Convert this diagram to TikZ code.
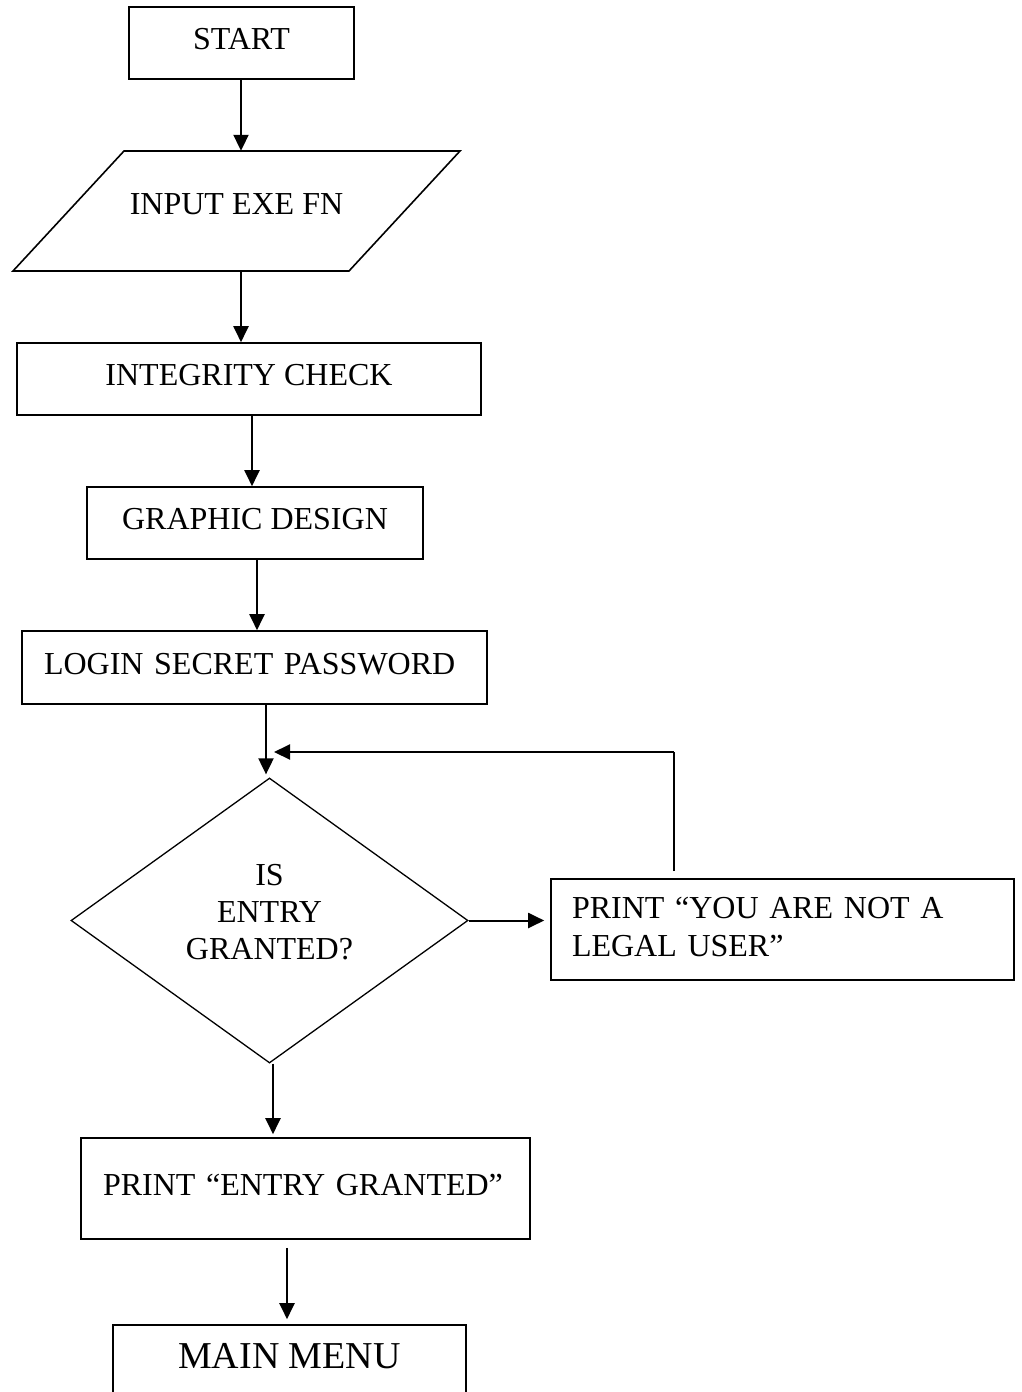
\documentclass[tikz,border=0pt]{standalone}
\usepackage{fontspec}
\setmainfont{Liberation Serif}
\usetikzlibrary{arrows.meta,shapes.geometric,calc}
\begin{document}
\begin{tikzpicture}[x=1pt,y=-1pt,
  box/.style={draw, line width=1.6pt, rectangle, inner sep=0pt,
    font=\fontsize{32}{37}\selectfont, text height=22pt, text depth=9pt},
  arr/.style={line width=2pt, -{Triangle[length=16pt,width=15pt]}},
  thin/.style={line width=1.4pt}]
\useasboundingbox (0,0) rectangle (1022,1392);
\node[box, minimum width=225pt, minimum height=72pt] (start) at (241.5,43) {START};
\node[inner sep=0pt, minimum width=336pt, minimum height=120pt,
  font=\fontsize{32}{37}\selectfont, text height=22pt, text depth=15pt] (input) at (236.5,211) {INPUT EXE FN};
\draw[line width=1.6pt] (124,151) -- (460,151) -- (349,271) -- (13,271) -- cycle;
\node[box, minimum width=464pt, minimum height=72pt] (integ) at (249,379) {INTEGRITY CHECK};
\node[box, minimum width=336pt, minimum height=72pt] (graphic) at (255,523) {GRAPHIC DESIGN};
\node[box, minimum width=465pt, minimum height=73pt, text width=421pt, inner xsep=22pt, align=left] (login) at (254.5,667.5) {LOGIN SECRET PASSWORD};
\node[draw, line width=1.3pt, diamond, minimum width=397pt, minimum height=285pt, inner sep=0pt,
  align=center, font=\fontsize{32}{37}\selectfont, text depth=18pt] (decide) at (269.5,920.5) {IS\\ENTRY\\GRANTED?};
\node[draw, line width=1.6pt, rectangle, minimum height=101pt, text width=421pt, inner xsep=21pt, inner ysep=0pt,
  align=left, font=\fontsize{32}{37.5}\selectfont, text depth=43pt] (legal) at (782.5,929.5) {PRINT “YOU ARE NOT A\\LEGAL USER”};
\node[box, minimum width=449pt, minimum height=101pt, text width=405pt, inner xsep=22pt, align=left] (entry) at (305.5,1188.5) {PRINT “ENTRY GRANTED”};
\node[box, minimum width=353pt, minimum height=71pt, font=\fontsize{38}{44}\selectfont, text height=26pt, text depth=10pt] (mainmenu) at (289.5,1360.5) {MAIN MENU};
\coordinate (loopend) at (274,752);
\coordinate (loopcorner) at (674,752);
\draw[arr] (start.south -| 241,0) -- (input.north -| 241,0);
\draw[arr] (input.south -| 241,0) -- (integ.north -| 241,0);
\draw[arr] (integ.south -| 252,0) -- (graphic.north -| 252,0);
\draw[arr] (graphic.south -| 257,0) -- (login.north -| 257,0);
\draw[arr] (login.south -| 266,0) -- ($(decide.north -| 266,0)+(0,-3)$);
\draw[arr] (decide.east) -- ($(decide.east -| legal.west)+(-6,0)$);
\draw[thin] ($(legal.north -| loopcorner)+(0,-7)$) -- (loopcorner);
\draw[arr] (loopcorner) -- (loopend);
\draw[arr] (decide.south -| 273,0) -- ($(entry.north -| 273,0)+(0,-3)$);
\draw[arr] ($(entry.south -| 287,0)+(0,8)$) -- ($(mainmenu.north -| 287,0)+(0,-5)$);
\end{tikzpicture}
\end{document}
